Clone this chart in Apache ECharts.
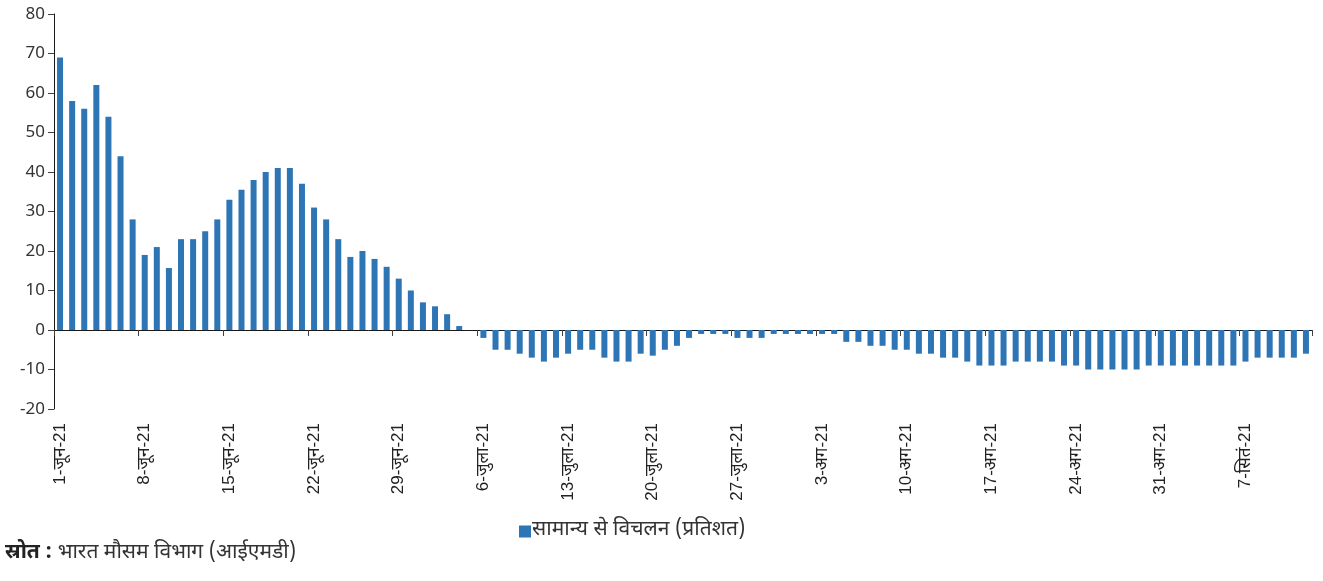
<!DOCTYPE html>
<html>
<head>
<meta charset="utf-8">
<script src="https://cdn.jsdelivr.net/npm/echarts@6/dist/echarts.min.js"></script>
<style>
  html, body { margin: 0; padding: 0; background: #ffffff; }
  #chart { width: 1323px; height: 581px; }
</style>
</head>
<body>
<div id="chart"></div>
<script>
// Daily deviation of rainfall from normal (%), 1 June – 12 September 2021
const months = [
  { name: 'जून', days: 30 },
  { name: 'जुला', days: 31 },
  { name: 'अग', days: 31 },
  { name: 'सितं', days: 12 }
];

const juneValues = [69, 58, 56, 62, 54, 44, 28, 19, 21, 15.7, 23, 23, 25, 28, 33, 35.5, 38, 40, 41, 41,
  37, 31, 28, 23, 18.5, 20, 18, 16, 13, 10];
const julyValues = [7, 6, 4, 1, 0, -2, -5, -5, -6, -7, -8, -7, -6, -5, -5, -7, -8, -8, -6, -6.5,
  -5, -4, -2, -1, -1, -1, -2, -2, -2, -1, -1];
const augustValues = [-1, -1, -1, -1, -3, -3, -4, -4, -5, -5, -6, -6, -7, -7, -8, -9, -9, -9, -8, -8,
  -8, -8, -9, -9, -10, -10, -10, -10, -10, -9, -9];
const septemberValues = [-9, -9, -9, -9, -9, -9, -8, -7, -7, -7, -7, -6];

const seriesName = 'सामान्य से विचलन (प्रतिशत)';
const sourceLabel = 'स्रोत :';
const sourceText = ' भारत मौसम विभाग (आईएमडी)';

const yTicks = { min: -20, max: 80, interval: 10 };
const labelEvery = 7;

// One category per day, labelled "day-month-21"
const categories = [];
months.forEach(m => {
  for (let d = 1; d <= m.days; d++) categories.push(d + '-' + m.name + '-21');
});
const values = [].concat(juneValues, julyValues, augustValues, septemberValues);

const FONT = "'Noto Sans Devanagari', 'Lohit Devanagari', 'FreeSans', 'Noto Sans', sans-serif";
const LABEL_FONT = "'Liberation Sans', 'Noto Sans Devanagari', 'Lohit Devanagari', sans-serif";
const BLUE = '#2E75B6';

const chart = echarts.init(document.getElementById('chart'), null, { renderer: 'canvas' });

chart.setOption({
  animation: false,
  backgroundColor: '#ffffff',
  grid: { left: 54, right: 11, top: 14, bottom: 172, containLabel: false },
  legend: {
    data: [seriesName],
    left: 514,
    top: 516,
    icon: 'rect',
    itemWidth: 12,
    itemHeight: 12,
    itemGap: 2,
    textStyle: { fontFamily: FONT, fontSize: 21, color: '#333333', padding: [0, 0, 0, -4] }
  },
  xAxis: [
    {
      // zero line with weekly tick marks
      type: 'category',
      data: categories,
      boundaryGap: true,
      axisLine: { onZero: true, lineStyle: { color: '#1a1a1a', width: 1 } },
      axisTick: { show: true, interval: labelEvery - 1, length: 6, lineStyle: { color: '#404040' } },
      axisLabel: { show: false },
      splitLine: { show: false }
    },
    {
      // date labels along the bottom of the plot
      type: 'category',
      data: categories,
      position: 'bottom',
      boundaryGap: true,
      axisLine: { show: false, onZero: false },
      axisTick: { show: false },
      axisLabel: {
        interval: labelEvery - 1,
        rotate: 90,
        margin: 14,
        fontFamily: LABEL_FONT,
        fontSize: 17,
        color: '#222222'
      },
      splitLine: { show: false }
    }
  ],
  yAxis: {
    type: 'value',
    min: yTicks.min,
    max: yTicks.max,
    interval: yTicks.interval,
    axisLine: { show: true, lineStyle: { color: '#1a1a1a', width: 1 } },
    axisTick: { show: true, length: 6, lineStyle: { color: '#404040' } },
    axisLabel: { margin: 9, fontFamily: "'Noto Sans', 'Open Sans', sans-serif", fontSize: 17, color: '#333333' },
    splitLine: { show: false }
  },
  series: [{
    name: seriesName,
    type: 'bar',
    xAxisIndex: 0,
    data: values,
    barWidth: 6,
    itemStyle: { color: BLUE }
  }],
  graphic: [{
    type: 'text',
    left: 5,
    top: 544,
    style: {
      text: '{b|' + sourceLabel + '}{n|' + sourceText + '}',
      rich: {
        b: { fontFamily: FONT, fontSize: 21, fontWeight: 'bold', fill: '#222222' },
        n: { fontFamily: FONT, fontSize: 21, fill: '#333333' }
      }
    }
  }]
});
</script>
</body>
</html>
